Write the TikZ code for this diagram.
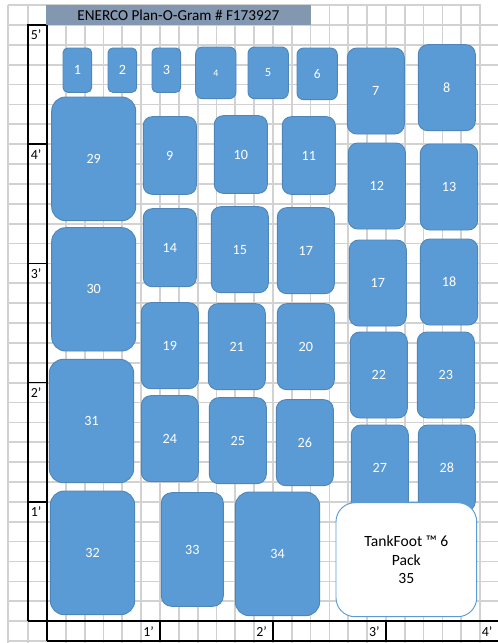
\documentclass[tikz,border=0pt]{standalone}
\usepackage{fontspec}
\setmainfont{Carlito}
\definecolor{gridgrey}{HTML}{D2D2D2}
\definecolor{shapefill}{HTML}{5B9BD5}
\definecolor{shapeedge}{HTML}{4F86BA}
\definecolor{titlefill}{HTML}{8497B0}
\tikzset{
  gridline/.style={gridgrey,line width=1.3pt},
  thickline/.style={black,line width=1.15pt},
  axislabel/.style={inner sep=0pt,text=black,font=\fontsize{10.4}{12}\selectfont},
  bin/.style={draw=shapeedge,fill=shapefill,line width=0.7pt,inner sep=0pt,text=white,font=\fontsize{10.6}{13}\selectfont},
}
% \binbox{name}{x0}{y0}{x1}{y1}{text}{extra}
\newcommand{\binbox}[7]{%
  \pgfmathsetmacro{\bw}{#4-#2}\pgfmathsetmacro{\bh}{#5-#3}%
  \pgfmathsetmacro{\br}{min(\bw,\bh)/6}%
  \node[bin,minimum width=\bw*0.75pt,minimum height=\bh*0.75pt,rounded corners=\br*0.75pt,#7]
    (#1) at ({(#2+#4)/2},{(#3+#5)/2}) {#6};}
\begin{document}
\begin{tikzpicture}[x=0.75pt,y=-0.75pt]
\useasboundingbox (0,0) rectangle (498,643);
\fill[white] (0,0) rectangle (498,643);
% grid
\foreach \n in {0,...,23} {\draw[gridline] ({47+18.83*\n},5) -- ({47+18.83*\n},641);}
\draw[gridline] (8.3,5) -- (8.3,643);
\draw[gridline] (28,5) -- (28,643);
\draw[gridline] (8,5) -- (480.5,5);
\foreach \n in {0,...,30} {\draw[gridline] (8,{25+19.87*\n}) -- (498,{25+19.87*\n});}
\draw[gridline] (8,641) -- (47,641);
% ruler
\draw[thickline] (28,621) -- (28,25) -- (47,25) -- (47,621);
\foreach \n in {0,...,5} {\draw[thickline] (28,{25+119.2*\n}) -- (47,{25+119.2*\n});}
\draw[thickline] (28,621) -- (498,621);
\foreach \xx in {47,160,273,386} {\draw[thickline] (\xx,621) -- (\xx,641);}
\draw[thickline] (47,641.2) -- (498,641.2);
\foreach \n in {1,...,23} {\draw[gridline] ({47+18.83*\n},642.1) -- ({47+18.83*\n},643);}
% title
\node[fill=titlefill,minimum width=264.7*0.75pt,minimum height=20*0.75pt,inner sep=0pt,text=black,font=\fontsize{11.4}{13}\selectfont] (title) at (178.3,15) {ENERCO Plan-O-Gram \# F173927};
% ruler labels
\node[axislabel] (v5) at (36,35) {5'};
\node[axislabel] (v4) at (36,155) {4'};
\node[axislabel] (v3) at (36,274) {3'};
\node[axislabel] (v2) at (36,393) {2'};
\node[axislabel] (v1) at (36,512) {1'};
\node[axislabel] (h1) at (148.7,631.5) {1'};
\node[axislabel] (h2) at (261.7,631.5) {2'};
\node[axislabel] (h3) at (374.3,631.5) {3'};
\node[axislabel] (h4) at (487,631.5) {4'};
% bins
\binbox{b1}{63}{48}{91.7}{92.3}{1}{}
\binbox{b2}{108}{48}{136.7}{92.3}{2}{}
\binbox{b3}{152}{48}{180.7}{92.3}{3}{}
\binbox{b4}{195.7}{47}{236}{98.7}{4}{font=\fontsize{7.4}{8}\selectfont}
\binbox{b5}{248}{47}{288.3}{98.7}{5}{font=\fontsize{9.4}{10}\selectfont}
\binbox{b6}{297}{48}{337.3}{99.7}{6}{font=\fontsize{10}{11}\selectfont}
\binbox{b7}{347.3}{48}{404.3}{134}{7}{}
\binbox{b8}{418.3}{44.7}{475.3}{130.7}{8}{}
\binbox{b29}{51.7}{97}{135.7}{220.7}{29}{}
\binbox{b9}{143.3}{116.7}{196.3}{194.3}{9}{}
\binbox{b10}{214.3}{115.7}{267.3}{193.3}{10}{}
\binbox{b11}{282.3}{116.7}{335.3}{194.3}{11}{}
\binbox{b12}{348.3}{143}{405.3}{229}{12}{}
\binbox{b13}{420.3}{144}{477.7}{230}{13}{}
\binbox{b14}{143.3}{208.7}{196.3}{286.7}{14}{}
\binbox{b15}{211.3}{206.7}{268.3}{292.7}{15}{}
\binbox{b17}{277.3}{207.7}{334.3}{293.7}{17}{}
\binbox{b17b}{349.3}{240}{406.3}{326}{17}{}
\binbox{b18}{420.3}{239}{477.7}{325}{18}{}
\binbox{b30}{51.7}{227.7}{135.7}{351}{30}{}
\binbox{b19}{141.3}{302.7}{198.3}{388.7}{19}{}
\binbox{b21}{208.3}{303.7}{265.3}{389.7}{21}{}
\binbox{b20}{277.3}{303.7}{334.3}{389.7}{20}{}
\binbox{b22}{350.3}{332}{407.3}{418}{22}{}
\binbox{b23}{417.3}{332}{474.3}{418}{23}{}
\binbox{b31}{49.3}{359.3}{133.7}{482.7}{31}{}
\binbox{b24}{141.3}{395.7}{198.3}{481.7}{24}{}
\binbox{b25}{209.3}{397.7}{266.3}{483.7}{25}{}
\binbox{b26}{276.3}{399.7}{333.3}{485.7}{26}{}
\binbox{b27}{351.3}{425}{408.3}{511}{27}{}
\binbox{b28}{418.3}{425}{475.3}{511}{28}{}
\binbox{b32}{50.3}{491}{134.7}{614.7}{32}{}
\binbox{b33}{161.3}{492.7}{223.3}{606.3}{33}{}
\binbox{b34}{235.3}{492}{319.7}{615.7}{34}{}
\binbox{b35}{336}{502.7}{476.7}{616.7}{TankFoot ™ 6\\Pack\\35}{fill=white,draw=shapefill,text=black,align=center,font=\fontsize{11.7}{14}\selectfont}
\end{tikzpicture}
\end{document}
